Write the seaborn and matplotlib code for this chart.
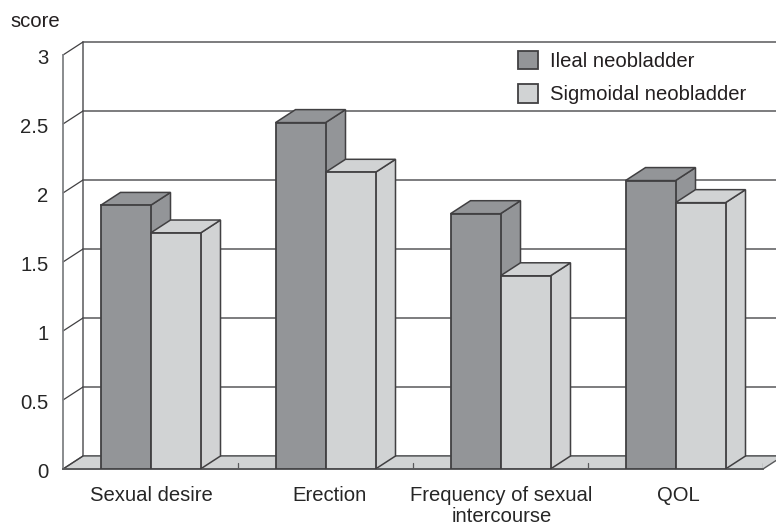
import pandas as pd
import matplotlib.pyplot as plt
import seaborn as sns
from matplotlib.patches import Polygon
from matplotlib.transforms import ScaledTranslation

categorias = ['Sexual desire', 'Erection', 'Frequency of sexual\nintercourse', 'QOL']
ileal = [1.91, 2.51, 1.85, 2.09]
sigmoidal = [1.71, 2.15, 1.40, 1.93]
series = ['Ileal neobladder', 'Sigmoidal neobladder']
y_ticks = [0, 0.5, 1, 1.5, 2, 2.5, 3]
y_labels = ['0', '0.5', '1', '1.5', '2', '2.5', '3']

W, H = 776, 531
OSCURO = '#939598'
CLARO = '#d1d3d4'
BORDE = '#414042'
LINEA = '#58595b'

sns.set_theme(style='white')
plt.rcParams['font.family'] = ['Liberation Sans', 'DejaVu Sans']
plt.rcParams['text.color'] = '#231f20'

df = pd.DataFrame({
    'categoria': categorias * 2,
    'score': ileal + sigmoidal,
    'grupo': [series[0]] * 4 + [series[1]] * 4,
})

fig = plt.figure(figsize=(W / 100, H / 100), dpi=100)
ax = fig.add_axes([63 / W, (H - 469) / H, 700 / W, 414 / H])

sns.barplot(data=df, x='categoria', y='score', hue='grupo', palette=[OSCURO, CLARO],
            width=100 / 175, gap=0, saturation=1, edgecolor=BORDE, linewidth=1.3, ax=ax)

ax.set_xlim(-0.5, 3.5)
ax.set_ylim(0, 3)
ax.patch.set_visible(False)

# profundidad del efecto 3D, en unidades de datos (20 px a la derecha, 13 px arriba)
dx = 20 / 175
dy = 13 / 138
x0, x1 = ax.get_xlim()

# suelo
ax.add_patch(Polygon([(x0, 0), (x1, 0), (x1 + dx, dy), (x0 + dx, dy)], closed=True,
                     facecolor=CLARO, edgecolor=LINEA, linewidth=1, zorder=1.1, clip_on=False))

# pared del fondo y diagonales de la izquierda
for t in y_ticks:
    ax.plot([x0 + dx, x1 + dx], [t + dy, t + dy], color=LINEA, lw=1.1, zorder=1, clip_on=False)
    ax.plot([x0, x0 + dx], [t, t + dy], color=BORDE, lw=0.9, zorder=1.2, clip_on=False)
ax.plot([x0 + dx, x0 + dx], [dy, 3 + dy], color=LINEA, lw=1.1, zorder=1, clip_on=False)

# marcas entre categorias
for i in range(1, len(categorias) + 1):
    ax.plot([x0 + i, x0 + i], [0, 0.045], color=LINEA, lw=0.9, zorder=1.3)

# caras lateral y superior de cada barra
z = 2.0
for cont, color in zip(ax.containers, [OSCURO, CLARO]):
    for barra in cont:
        izq, der = barra.get_x(), barra.get_x() + barra.get_width()
        alto = barra.get_height()
        ax.add_patch(Polygon([(der, 0), (der + dx, dy), (der + dx, alto + dy), (der, alto)], closed=True,
                             facecolor=color, edgecolor=BORDE, linewidth=1.1, zorder=z, clip_on=False))
        ax.add_patch(Polygon([(izq, alto), (der, alto), (der + dx, alto + dy), (izq + dx, alto + dy)], closed=True,
                             facecolor=color, edgecolor=BORDE, linewidth=1.1, zorder=z, clip_on=False))
        barra.set_zorder(3)
    z += 0.1

for lado in ['top', 'right']:
    ax.spines[lado].set_visible(False)
ax.spines['left'].set_color('#808285')
ax.spines['left'].set_linewidth(1.3)
ax.spines['bottom'].set_color(LINEA)
ax.spines['bottom'].set_linewidth(1.3)

ax.set_xlabel('')
ax.set_ylabel('')
ax.set_yticks(y_ticks, y_labels)
ax.tick_params(axis='y', direction='in', length=4, width=0.9, color=BORDE, pad=10.5, labelsize=14.6)
ax.tick_params(axis='x', length=0, pad=12.5, labelsize=14.6)

# ajuste fino de las etiquetas, en pixeles
ajuste_x = [1, 4, 1, 3]
for etiqueta, d in zip(ax.get_xticklabels(), ajuste_x):
    etiqueta.set_linespacing(1.1)
    etiqueta.set_transform(etiqueta.get_transform() + ScaledTranslation(d / 100, 0, fig.dpi_scale_trans))
for etiqueta in ax.get_yticklabels():
    etiqueta.set_transform(etiqueta.get_transform() + ScaledTranslation(0, -1.5 / 100, fig.dpi_scale_trans))

fig.text(10 / W, (H - 27) / H, 'score', fontsize=14.6, ha='left', va='baseline')

leg = ax.legend(loc='upper left', bbox_to_anchor=(518 / W, (H - 51) / H), bbox_transform=fig.transFigure,
                frameon=False, fontsize=14.6, handlelength=1.0, handleheight=1.0, handletextpad=0.6,
                labelspacing=0.66, borderpad=0, borderaxespad=0)

fig.savefig('out.png', dpi=100)
